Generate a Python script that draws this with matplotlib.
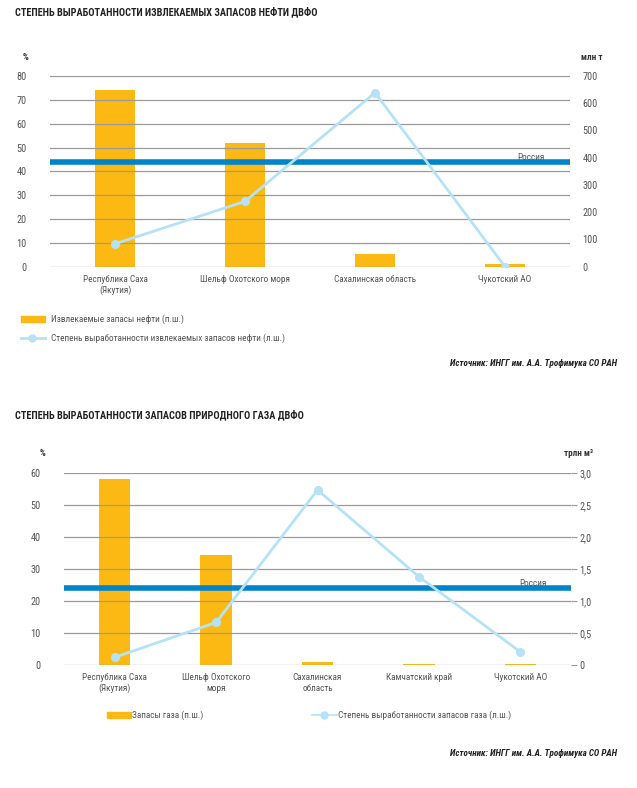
import numpy as np
import matplotlib.pyplot as plt
from matplotlib.lines import Line2D
from matplotlib.patches import Rectangle
from matplotlib.ticker import FuncFormatter

plt.rcParams['font.family'] = ['Roboto Condensed', 'Liberation Sans Narrow', 'Roboto', 'DejaVu Sans']

# oil chart data
oil_regions = ['Республика Саха\n(Якутия)', 'Шельф Охотского моря', 'Сахалинская область', 'Чукотский АО']
oil_reserves = [648, 454, 45, 9]          # млн т, right axis
oil_depletion = [9.6, 27.4, 73.0, 0.0]    # %, left axis
oil_russia = 44

# gas chart data
gas_regions = ['Республика Саха\n(Якутия)', 'Шельф Охотского\nморя', 'Сахалинская\nобласть', 'Камчатский край', 'Чукотский АО']
gas_reserves = [2.91, 1.72, 0.04, 0.01, 0.01]   # трлн м3, right axis
gas_depletion = [2.4, 13.3, 54.7, 27.6, 4.1]    # %, left axis
gas_russia = 24.2

W, H = 637, 788
BAR = '#FDB913'
LINE = '#B5E2F7'
RUS = '#0083C9'
GRID = '#9a9a9a'
TXT = '#555555'

fig = plt.figure(figsize=(W / 100, H / 100), dpi=100)


def box(x0, y0, x1, y1):
    return [x0 / W, 1 - y1 / H, (x1 - x0) / W, (y1 - y0) / H]


def fx(x):
    return x / W


def fy(y):
    return 1 - y / H


def draw(rect, cats, bars, line, rus, lmax, lstep, rmax, rstep, rfmt, right_ticks):
    ax = fig.add_axes(rect)
    ax2 = ax.twinx()
    x = np.arange(len(cats))
    ax2.bar(x, bars, width=0.31, color=BAR, zorder=2)
    ax.set_zorder(ax2.get_zorder() + 1)
    ax.patch.set_visible(False)
    ax.axhline(rus, color=RUS, lw=4, zorder=3)
    ax.plot(x, line, color=LINE, lw=2, marker='o', ms=5.5, zorder=4)
    ax.set_xlim(-0.5, len(cats) - 0.5)
    ax.set_ylim(0, lmax)
    ax2.set_ylim(0, rmax)
    ax.set_yticks(np.arange(0, lmax + 1e-9, lstep))
    ax2.set_yticks(np.arange(0, rmax + 1e-9, rstep))
    ax2.yaxis.set_major_formatter(FuncFormatter(rfmt))
    ax.yaxis.grid(True, color=GRID, lw=0.9)
    ax.set_axisbelow(False)
    ax.set_xticks(x)
    ax.set_xticklabels(cats, fontsize=6.7, color=TXT)
    for a in (ax, ax2):
        for s in a.spines.values():
            s.set_visible(False)
    ax.tick_params(axis='y', length=0, labelsize=7.4, labelcolor=TXT, pad=17)
    ax.tick_params(axis='x', length=0, pad=6)
    if right_ticks:
        ax2.tick_params(axis='y', length=4, color=GRID, labelsize=7.4, labelcolor=TXT, pad=2)
    else:
        ax2.tick_params(axis='y', length=0, labelsize=7.4, labelcolor=TXT, pad=9)
    ax.text(0.925, rus, 'Россия', transform=ax.get_yaxis_transform(), fontsize=6.7,
            color=TXT, va='bottom', ha='center')
    return ax, ax2


# top chart
fig.text(fx(15), fy(12), 'СТЕПЕНЬ ВЫРАБОТАННОСТИ ИЗВЛЕКАЕМЫХ ЗАПАСОВ НЕФТИ ДВФО',
         fontsize=7.4, fontweight='bold', color='#222222', va='center', ha='left')
draw(box(50, 76, 570, 266.7), oil_regions, oil_reserves, oil_depletion, oil_russia,
     80, 10, 700, 100, lambda v, p: f'{v:.0f}', False)
fig.text(fx(26), fy(57), '%', fontsize=6.5, fontweight='bold', color='#333333', ha='center', va='center')
fig.text(fx(592), fy(57), 'млн т', fontsize=6.5, fontweight='bold', color='#333333', ha='center', va='center')

fig.add_artist(Rectangle((fx(21), fy(322)), fx(24), 6 / H, color=BAR, transform=fig.transFigure))
fig.text(fx(51), fy(319), 'Извлекаемые запасы нефти (п.ш.)', fontsize=6.7, color=TXT, va='center')
fig.add_artist(Line2D([fx(21), fx(45)], [fy(338), fy(338)], color=LINE, lw=2, transform=fig.transFigure))
fig.add_artist(Line2D([fx(32)], [fy(338)], color=LINE, marker='o', ms=5, transform=fig.transFigure))
fig.text(fx(51), fy(338), 'Степень выработанности извлекаемых запасов нефти (л.ш.)',
         fontsize=6.7, color=TXT, va='center')
fig.text(fx(617), fy(364), 'Источник: ИНГГ им. А.А. Трофимука СО РАН', fontsize=6.6,
         fontweight='bold', style='italic', color='#222222', ha='right', va='center')

# bottom chart
fig.text(fx(15), fy(415), 'СТЕПЕНЬ ВЫРАБОТАННОСТИ ЗАПАСОВ ПРИРОДНОГО ГАЗА ДВФО',
         fontsize=7.4, fontweight='bold', color='#222222', va='center', ha='left')


def gas_fmt(v, p):
    return '0' if v == 0 else f'{v:.1f}'.replace('.', ',')


draw(box(64, 473, 571, 665), gas_regions, gas_reserves, gas_depletion, gas_russia,
     60, 10, 3.0, 0.5, gas_fmt, True)
fig.text(fx(43), fy(453), '%', fontsize=6.5, fontweight='bold', color='#333333', ha='center', va='center')
fig.text(fx(578), fy(453), 'трлн м³', fontsize=6.5, fontweight='bold', color='#333333', ha='center', va='center')

fig.add_artist(Rectangle((fx(107), fy(718)), fx(24), 6 / H, color=BAR, transform=fig.transFigure))
fig.text(fx(132), fy(715), 'Запасы газа (п.ш.)', fontsize=6.7, color=TXT, va='center')
fig.add_artist(Line2D([fx(312), fx(337)], [fy(715), fy(715)], color=LINE, lw=1.2, transform=fig.transFigure))
fig.add_artist(Line2D([fx(324)], [fy(715)], color=LINE, marker='o', ms=5, transform=fig.transFigure))
fig.text(fx(338), fy(715), 'Степень выработанности запасов газа (л.ш.)', fontsize=6.7, color=TXT, va='center')
fig.text(fx(617), fy(754), 'Источник: ИНГГ им. А.А. Трофимука СО РАН', fontsize=6.6,
         fontweight='bold', style='italic', color='#222222', ha='right', va='center')

fig.savefig('out.png', dpi=100)
